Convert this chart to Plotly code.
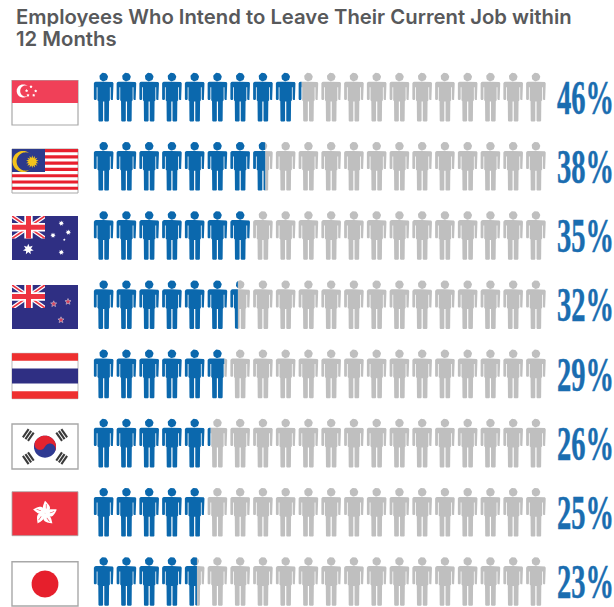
import math
import plotly.graph_objects as go

# Survey data, top row first
countries = ["Singapore", "Malaysia", "Australia", "New Zealand", "Thailand",
             "South Korea", "Hong Kong", "Japan"]
intend_to_leave = [46, 38, 35, 32, 29, 26, 25, 23]
title_lines = ["Employees Who Intend to Leave Their Current Job within", "12 Months"]

BLUE = "#0b68ad"
GREY = "#bfbfbf"
LABEL_BLUE = "#1a6db0"
TITLE_GREY = "#58595b"
W, H = 614, 607

ICONS = 20
PCT_PER_ICON = 100 / ICONS
PX_PER_PCT = 4.55
ROW_PX = 69.2
X_ORIGIN_PX = 92.3
Y_ORIGIN_PX = 72.7

# One figure outline in pixels, relative to its top centre
RIGHT_HALF = [(0, 9.0), (7.8, 9.0), (9.0, 9.4), (9.8, 10.6), (9.8, 26.4), (9.2, 27.2),
              (7.6, 27.2), (7.0, 26.4), (7.0, 14.5), (6.2, 14.5), (6.2, 27.5),
              (5.4, 28.5), (5.2, 48.0), (4.5, 48.7), (1.3, 48.7), (0.6, 48.0), (0.6, 28.8), (0, 28.8)]
BODY = RIGHT_HALF + [(-x, y) for x, y in reversed(RIGHT_HALF)]
HEAD = [(4.3 * math.cos(a * math.pi / 14), 4.3 + 4.3 * math.sin(a * math.pi / 14)) for a in range(28)]


def clip(poly, limit, keep_left):
    """Cut a polygon at a vertical line."""
    inside = (lambda p: p[0] <= limit) if keep_left else (lambda p: p[0] >= limit)
    out = []
    for i, cur in enumerate(poly):
        prev = poly[i - 1]
        if inside(cur) != inside(prev):
            t = (limit - prev[0]) / (cur[0] - prev[0])
            out.append((limit, prev[1] + t * (cur[1] - prev[1])))
        if inside(cur):
            out.append(cur)
    return out


def row_polys(row, value, keep_left):
    xs, ys = [], []
    for col in range(ICONS):
        cx = (col + 0.5) * PCT_PER_ICON
        for part in (BODY, HEAD):
            pts = [(cx + x / PX_PER_PCT, row + y / ROW_PX) for x, y in part]
            pts = clip(pts, value, keep_left)
            if pts:
                xs += [p[0] for p in pts] + [pts[0][0], None]
                ys += [p[1] for p in pts] + [pts[0][1], None]
    return xs, ys


fig = go.Figure()
for r, v in enumerate(intend_to_leave):
    for keep_left, colour, label in ((False, GREY, "Other"), (True, BLUE, countries[r])):
        xs, ys = row_polys(r, v, keep_left)
        fig.add_trace(go.Scatter(x=xs, y=ys, mode="lines", fill="toself", fillcolor=colour,
                                 line=dict(width=0, color=colour), hoverinfo="skip",
                                 showlegend=False, name=label))

# ---- flag artwork, in page pixels ----
shapes = []


def add_path(points, fill, line=None, lw=0):
    d = "M" + " L".join(f"{x / W:.5f},{1 - y / H:.5f}" for x, y in points) + " Z"
    shapes.append(dict(type="path", path=d, xref="paper", yref="paper", fillcolor=fill,
                       line=dict(color=line or fill, width=lw), layer="above"))


def rect(x0, y0, x1, y1, fill, line=None, lw=0):
    add_path([(x0, y0), (x1, y0), (x1, y1), (x0, y1)], fill, line, lw)


def circle(cx, cy, r, fill, n=48):
    add_path([(cx + r * math.cos(2 * math.pi * i / n), cy + r * math.sin(2 * math.pi * i / n))
              for i in range(n)], fill)


def star(cx, cy, r, fill, points=5, inner=0.42, line=None, lw=0):
    pts = []
    for i in range(points * 2):
        rad = r if i % 2 == 0 else r * inner
        a = -math.pi / 2 + i * math.pi / points
        pts.append((cx + rad * math.cos(a), cy + rad * math.sin(a)))
    add_path(pts, fill, line, lw)


def rotated_bar(cx, cy, length, width, angle, fill):
    c, s = math.cos(angle), math.sin(angle)
    pts = [(-length / 2, -width / 2), (length / 2, -width / 2), (length / 2, width / 2), (-length / 2, width / 2)]
    add_path([(cx + x * c - y * s, cy + x * s + y * c) for x, y in pts], fill)


FX0, FX1 = 12, 78
NAVY = "#2f2f83"
RED = "#ee3340"
EDGE = "#a8a8a8"


def union_jack(x0, y0, x1, y1):
    rect(x0, y0, x1, y1, NAVY)
    w, h = x1 - x0, y1 - y0
    dx, dy = w * 0.11, h * 0.11
    add_path([(x0, y0), (x0 + dx, y0), (x1, y1 - dy), (x1, y1), (x1 - dx, y1), (x0, y0 + dy)], "#ffffff")
    add_path([(x1, y0), (x1, y0 + dy), (x0 + dx, y1), (x0, y1), (x0, y1 - dy), (x1 - dx, y0)], "#ffffff")
    dx, dy = w * 0.045, h * 0.045
    add_path([(x0, y0), (x0 + dx, y0), (x1, y1 - dy), (x1, y1), (x1 - dx, y1), (x0, y0 + dy)], RED)
    add_path([(x1, y0), (x1, y0 + dy), (x0 + dx, y1), (x0, y1), (x0, y1 - dy), (x1 - dx, y0)], RED)
    mx, my = (x0 + x1) / 2, (y0 + y1) / 2
    rect(mx - 4.2, y0, mx + 4.2, y1, "#ffffff")
    rect(x0, my - 4.2, x1, my + 4.2, "#ffffff")
    rect(mx - 2.5, y0, mx + 2.5, y1, RED)
    rect(x0, my - 2.5, x1, my + 2.5, RED)


# Singapore
rect(FX0, 80.5, FX1, 125, "#ffffff", EDGE, 1.2)
rect(FX0, 80.5, FX1, 103, "#f04058")
circle(23.3, 91, 6.6, "#ffffff")
circle(25.8, 91, 5.6, "#f04058")
for sx, sy in [(31, 86.7), (35.7, 91), (33.7, 95.3), (28, 95.3), (26.6, 90.7)]:
    star(sx, sy, 1.6, "#ffffff", inner=0.6)

# Malaysia
my0, my1 = 149, 193
rect(FX0, my0, FX1, my1, "#ffffff", EDGE, 1)
step = (my1 - my0) / 14
for i in range(0, 14, 2):
    rect(FX0, my0 + i * step, FX1, my0 + (i + 1) * step, "#e8202e")
rect(FX0, my0, 45, my0 + 7 * step + 1, "#2c3a8c")
circle(23, 161.5, 10.5, "#f3c31c")
circle(25.8, 161.5, 9.2, "#2c3a8c")
star(32.3, 161.7, 6.4, "#f3c31c", points=14, inner=0.6)

# Australia
rect(FX0, 216, FX1, 260, NAVY)
union_jack(FX0, 216, 45, 238.5)
star(28.3, 249.3, 5.6, "#ffffff", points=7, inner=0.5)
for sx, sy in [(61.3, 223.3), (53, 235.3), (68.3, 232.3), (61.3, 252.3)]:
    star(sx, sy, 2.8, "#ffffff", points=7, inner=0.5)
star(64.3, 239.7, 1.4, "#ffffff", inner=0.5)

# New Zealand
rect(FX0, 285, FX1, 329, NAVY)
union_jack(FX0, 285, 45, 308)
for sx, sy in [(68, 301.7), (53.7, 304), (61, 320)]:
    star(sx, sy, 3.2, "#d4405a", inner=0.45, line="#c9c9de", lw=0.6)

# Thailand
ty0, unit = 353.3, 45.4 / 6
rect(FX0, ty0, FX1, ty0 + 6 * unit, "#ffffff", EDGE, 0.8)
rect(FX0, ty0, FX1, ty0 + unit, "#ee2f2f")
rect(FX0, ty0 + 2 * unit, FX1, ty0 + 4 * unit, NAVY)
rect(FX0, ty0 + 5 * unit, FX1, ty0 + 6 * unit, "#ee2f2f")

# South Korea
rect(FX0, 424, FX1, 469, "#ffffff", EDGE, 1.4)
kx, ky, kr = 45, 446.7, 11
tilt = math.radians(25)
axis = (math.cos(tilt), math.sin(tilt))
normal = (math.sin(tilt), -math.cos(tilt))
circle(kx, ky, kr, "#2f3a92")
add_path([(kx + kr * (axis[0] * math.cos(math.pi * i / 36) + normal[0] * math.sin(math.pi * i / 36)),
           ky + kr * (axis[1] * math.cos(math.pi * i / 36) + normal[1] * math.sin(math.pi * i / 36)))
          for i in range(37)], "#e4232f")
circle(kx - kr / 2 * axis[0], ky - kr / 2 * axis[1], kr / 2, "#e4232f")
circle(kx + kr / 2 * axis[0], ky + kr / 2 * axis[1], kr / 2, "#2f3a92")
for tx, ty in [(28.3, 435), (61.7, 435), (28.3, 458.3), (61.7, 458.3)]:
    radial = math.atan2(ky - ty, kx - tx)
    for off in (-3.1, 0, 3.1):
        rotated_bar(tx + off * math.cos(radial), ty + off * math.sin(radial),
                    10, 2.1, radial + math.pi / 2, "#3a3a3a")

# Hong Kong
rect(FX0, 491.7, FX1, 535.7, "#ee3342", EDGE, 0.8)
hx, hy = 45, 513.3
for k in range(5):
    a = -math.pi / 2 + k * 2 * math.pi / 5
    pts = [(12.5 * t / 24, 5.0 * math.sin(math.pi * (t / 24) ** 0.8)) for t in range(25)]
    pts += [(12.5 * t / 24, -2.2 * math.sin(math.pi * (t / 24) ** 0.8)) for t in range(24, -1, -1)]
    c, s = math.cos(a), math.sin(a)
    add_path([(hx + x * c - y * s, hy + x * s + y * c) for x, y in pts], "#ffffff")
    rotated_bar(hx + 7 * c - 1.2 * s, hy + 7 * s + 1.2 * c, 4.5, 0.6, a, "#ee3342")

# Japan
rect(FX0, 561.7, FX1, 606, "#ffffff", EDGE, 1.4)
circle(45, 584, 13.4, "#e61f2c")

# ---- text ----
annotations = []
for line, y_px in zip(title_lines, (17, 38)):
    annotations.append(dict(text=line, x=14 / W, y=1 - y_px / H, xref="paper", yref="paper",
                            xanchor="left", yanchor="middle", showarrow=False, height=20.5,
                            font=dict(family="Inter", size=20.3, color=TITLE_GREY, weight=600)))
for r, v in enumerate(intend_to_leave):
    annotations.append(dict(text=f"{v}%", x=585 / W, y=r + 24.5 / ROW_PX, xref="paper", yref="y",
                            xanchor="center", yanchor="middle", showarrow=False,
                            font=dict(family="Liberation Sans Narrow", size=28.5, color=LABEL_BLUE, weight=700)))

fig.update_layout(
    width=W, height=H, margin=dict(l=0, r=0, t=0, b=0),
    paper_bgcolor="#ffffff", plot_bgcolor="#ffffff", showlegend=False,
    xaxis=dict(range=[-X_ORIGIN_PX / PX_PER_PCT, (W - X_ORIGIN_PX) / PX_PER_PCT], visible=False, fixedrange=True),
    yaxis=dict(range=[(H - Y_ORIGIN_PX) / ROW_PX, -Y_ORIGIN_PX / ROW_PX], visible=False, fixedrange=True),
    shapes=shapes, annotations=annotations,
)

# The percentage labels are set tall and condensed
stretch = """
document.querySelectorAll('.annotation-text').forEach(function (t) {
  if (t.textContent.trim().endsWith('%')) {
    t.style.transformBox = 'fill-box';
    t.style.transformOrigin = 'center';
    t.style.transform = 'scaleY(1.72)';
    t.style.stroke = '#1a6db0';
    t.style.strokeWidth = '0.3px';
  }
});
"""
fig.write_html("out.html", post_script=stretch, config={"displayModeBar": False})
